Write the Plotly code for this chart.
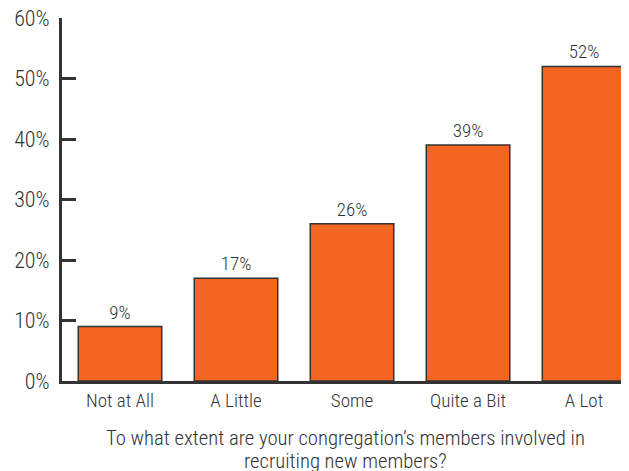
import plotly.graph_objects as go

categories = ["Not at All", "A Little", "Some", "Quite a Bit", "A Lot"]
values = [9, 17, 26, 39, 52]
labels = ["9%", "17%", "26%", "39%", "52%"]
tick_vals = [0, 10, 20, 30, 40, 50, 60]
tick_text = ["0%", "10%", "20%", "30%", "40%", "50%", "60%"]
x_title_lines = ["To what extent are your congregation’s members involved in",
                 "recruiting new members?"]

FONT = "Roboto Condensed, Liberation Sans Narrow, Arial Narrow, sans-serif"
DARK = "#333333"
W = 300

fig = go.Figure(go.Bar(
    x=list(range(len(categories))),
    y=values,
    text=labels,
    textposition="outside",
    textfont=dict(family=FONT, size=19, color=DARK, weight=W),
    cliponaxis=False,
    marker=dict(color="#F26522", line=dict(color=DARK, width=1.5)),
    width=0.72,
))

for yy, line in zip([-0.157, -0.2204], x_title_lines):
    fig.add_annotation(
        text=line, xref="paper", yref="paper", x=0.5, y=yy,
        xanchor="center", yanchor="middle", showarrow=False,
        font=dict(family=FONT, size=20.7, color=DARK, weight=W),
    )

fig.update_layout(
    width=629, height=471,
    margin=dict(l=54, r=9, t=10, b=98, autoexpand=False),
    paper_bgcolor="white", plot_bgcolor="white",
    showlegend=False,
    font=dict(family=FONT, color=DARK),
    xaxis=dict(
        range=[-0.5, 4.379],
        tickmode="array",
        tickvals=list(range(len(categories))),
        ticktext=categories,
        tickfont=dict(family=FONT, size=19, color=DARK, weight=W),
        showline=True, linecolor=DARK, linewidth=2.5,
        ticks="", showgrid=False, zeroline=False, automargin=False,
    ),
    yaxis=dict(
        range=[0, 60],
        tickmode="array",
        tickvals=tick_vals,
        ticktext=tick_text,
        tickfont=dict(family=FONT, size=22, color=DARK, weight=W),
        ticklabeloverflow="allow",
        showline=True, linecolor=DARK, linewidth=3,
        ticks="inside", ticklen=14, tickwidth=2.5, tickcolor=DARK,
        showgrid=False, zeroline=False, automargin=False,
        ticklabelstandoff=5,
    ),
)

fig.write_html("out.html")
